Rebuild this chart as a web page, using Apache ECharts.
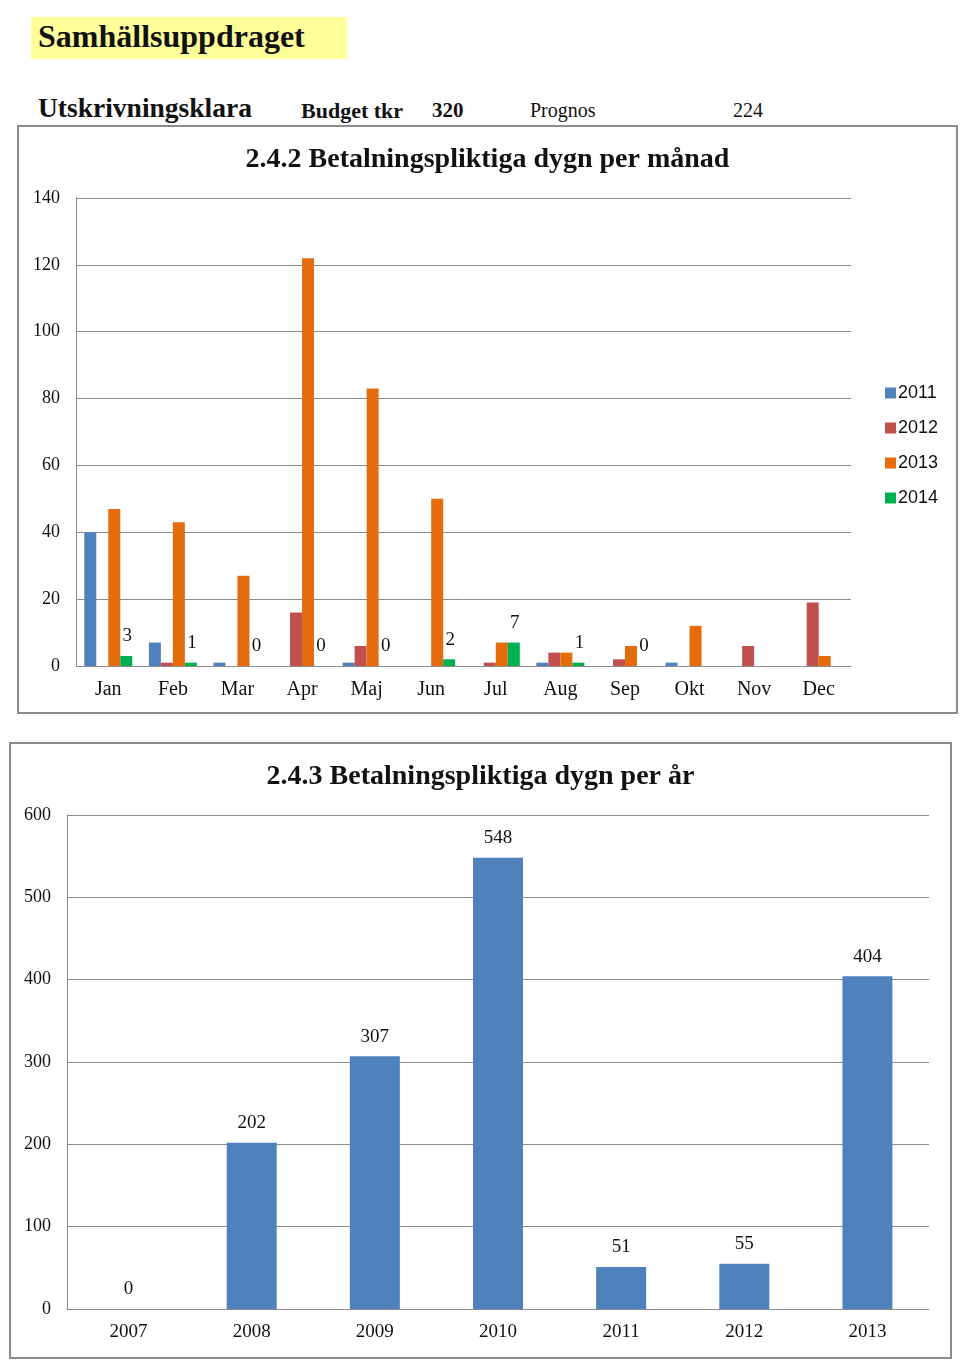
<!DOCTYPE html>
<html>
<head>
<meta charset="utf-8">
<script src="https://cdn.jsdelivr.net/npm/echarts@6/dist/echarts.min.js"></script>
<style>
  body { margin: 0; background: #fff; font-family: 'Liberation Serif', serif; }
  .page { position: relative; width: 960px; height: 1365px; }
  .hdr { position: absolute; white-space: nowrap; color: #111; }
  .box { position: absolute; border: 2px solid #8c8c8c; box-sizing: border-box; }
</style>
</head>
<body>
<div class="page">
  <div class="hdr" style="left:31px;top:17px;width:316px;height:42px;background:#ffff99;"></div>
  <div class="hdr" style="left:38px;top:18px;font-size:32px;font-weight:bold;">Samhällsuppdraget</div>
  <div class="hdr" style="left:38px;top:92px;font-size:27.5px;font-weight:bold;">Utskrivningsklara</div>
  <div class="hdr" style="left:301px;top:98px;font-size:22px;font-weight:bold;">Budget tkr</div>
  <div class="hdr" style="left:432px;top:98px;font-size:21px;font-weight:bold;">320</div>
  <div class="hdr" style="left:530px;top:99px;font-size:20px;">Prognos</div>
  <div class="hdr" style="left:733px;top:99px;font-size:20px;">224</div>
  <div id="monthly" class="box" style="left:17px;top:125px;width:941px;height:589px;"></div>
  <div id="yearly" class="box" style="left:9px;top:742px;width:943px;height:617px;"></div>
</div>
<script>
const months = ['Jan', 'Feb', 'Mar', 'Apr', 'Maj', 'Jun', 'Jul', 'Aug', 'Sep', 'Okt', 'Nov', 'Dec']
const y2011 = [40, 7, 1, 0, 1, 0, 0, 1, 0, 1, 0, 0]
const y2012 = [0, 1, 0, 16, 6, 0, 1, 4, 2, 0, 6, 19]
const y2013 = [47, 43, 27, 122, 83, 50, 7, 4, 6, 12, 0, 3]
const y2014 = [3, 1, 0, 0, 0, 2, 7, 1, 0, null, null, null]

const years = ['2007', '2008', '2009', '2010', '2011', '2012', '2013']
const perYear = [0, 202, 307, 548, 51, 55, 404]

const font = 'Liberation Serif'
const axisText = { color: '#111', fontFamily: font }
const gridLine = { lineStyle: { color: '#8c8c8c', width: 1 } }
const titleStyle = { fontFamily: font, fontSize: 28, fontWeight: 'bold', color: '#111' }

const monthly = echarts.init(document.getElementById('monthly'))
const bar = (name, data, color, label) => ({
  name,
  type: 'bar',
  data,
  barWidth: 12,
  barGap: '0%',
  itemStyle: { color },
  label: label
    ? { show: true, position: 'top', distance: 10, color: '#111', fontFamily: font, fontSize: 19, offset: [1, 0] }
    : { show: false },
})
monthly.setOption({
  animation: false,
  title: {
    text: '2.4.2 Betalningspliktiga dygn per månad',
    left: 'center',
    top: 14,
    textStyle: titleStyle,
  },
  legend: {
    orient: 'vertical',
    left: 861,
    top: 252,
    itemWidth: 11,
    itemHeight: 11,
    itemGap: 17,
    icon: 'rect',
    textStyle: { fontFamily: 'Liberation Sans', fontSize: 18, color: '#111', padding: [0, 0, 0, -3] },
  },
  grid: { left: 57, right: 105, top: 71, bottom: 46 },
  xAxis: {
    type: 'category',
    data: months,
    axisTick: { show: false },
    axisLine: gridLine,
    axisLabel: { ...axisText, fontSize: 20, margin: 14 },
  },
  yAxis: {
    type: 'value',
    min: 0,
    max: 140,
    interval: 20,
    axisLine: { show: true, ...gridLine },
    splitLine: gridLine,
    axisLabel: { ...axisText, fontSize: 18, margin: 16 },
  },
  series: [
    bar('2011', y2011, '#4f81bd'),
    bar('2012', y2012, '#c0504d'),
    bar('2013', y2013, '#e46c0a'),
    bar('2014', y2014, '#00b050', true),
  ],
})

const yearly = echarts.init(document.getElementById('yearly'))
yearly.setOption({
  animation: false,
  title: {
    text: '2.4.3 Betalningspliktiga dygn per år',
    left: 'center',
    top: 14,
    textStyle: titleStyle,
  },
  grid: { left: 56, right: 21, top: 71, bottom: 48 },
  xAxis: {
    type: 'category',
    data: years,
    axisTick: { show: false },
    axisLine: gridLine,
    axisLabel: { ...axisText, fontSize: 19, margin: 14 },
  },
  yAxis: {
    type: 'value',
    min: 0,
    max: 600,
    interval: 100,
    axisLine: { show: true, ...gridLine },
    splitLine: gridLine,
    axisLabel: { ...axisText, fontSize: 18, margin: 16 },
  },
  series: [
    {
      type: 'bar',
      data: perYear,
      barWidth: 50,
      itemStyle: { color: '#4f81bd' },
      label: { show: true, position: 'top', color: '#111', fontFamily: font, fontSize: 19, distance: 10 },
    },
  ],
})
</script>
</body>
</html>
